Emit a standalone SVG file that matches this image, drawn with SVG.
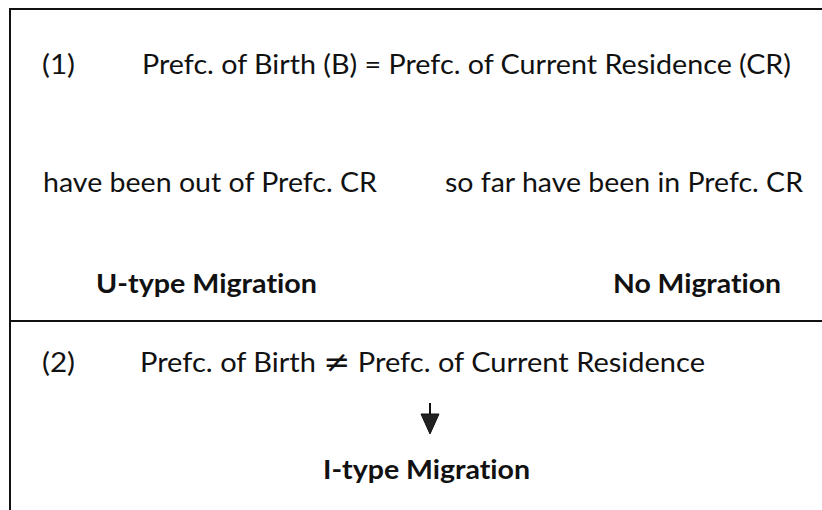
<svg xmlns="http://www.w3.org/2000/svg" width="822" height="510" viewBox="0 0 822 510">
<style>
.t{font-family:Lato,"Liberation Sans",sans-serif;font-size:27px;fill:#111;font-variant-ligatures:none}
.b{font-family:Lato,"Liberation Sans",sans-serif;font-size:27px;font-weight:bold;fill:#111;font-variant-ligatures:none}
.ln{stroke:#111;stroke-width:2;fill:none}
.ne{font-family:"DejaVu Sans",sans-serif;font-size:30px}
</style>
<rect width="822" height="510" fill="#fff"/>
<g id="frame">
<path class="ln" d="M822,9 H10 V510"/>
<path class="ln" d="M10,321 H822"/>
</g>
<g id="case1">
<text class="t" x="42" y="74" textLength="33" lengthAdjust="spacingAndGlyphs">(1)</text>
<text class="t" x="142" y="74" textLength="649" lengthAdjust="spacingAndGlyphs">Prefc. of Birth (B) = Prefc. of Current Residence (CR)</text>
</g>
<g id="out">
<text class="t" x="43" y="192" textLength="334" lengthAdjust="spacingAndGlyphs">have been out of Prefc. CR</text>
</g>
<g id="in">
<text class="t" x="445" y="192" textLength="358" lengthAdjust="spacingAndGlyphs">so far have been in Prefc. CR</text>
</g>
<g id="utype">
<text class="b" x="96" y="293" textLength="221" lengthAdjust="spacingAndGlyphs">U-type Migration</text>
</g>
<g id="nomig">
<text class="b" x="613" y="293" textLength="168" lengthAdjust="spacingAndGlyphs">No Migration</text>
</g>
<g id="case2">
<text class="t" x="42" y="372" textLength="33" lengthAdjust="spacingAndGlyphs">(2)</text>
<text class="t" x="140" y="372" textLength="565" lengthAdjust="spacingAndGlyphs">Prefc. of Birth <tspan class="ne">≠</tspan> Prefc. of Current Residence</text>
</g>
<g id="itype">
<text class="b" x="323" y="479" textLength="207" lengthAdjust="spacingAndGlyphs">I-type Migration</text>
</g>
<g id="connectors">
<line x1="430" y1="403" x2="430" y2="430" stroke="#111" stroke-width="2"/>
<path d="M421,414 L439,414 L430,434 Z" fill="#222" stroke="#111" stroke-width="1"/>
</g>
</svg>
